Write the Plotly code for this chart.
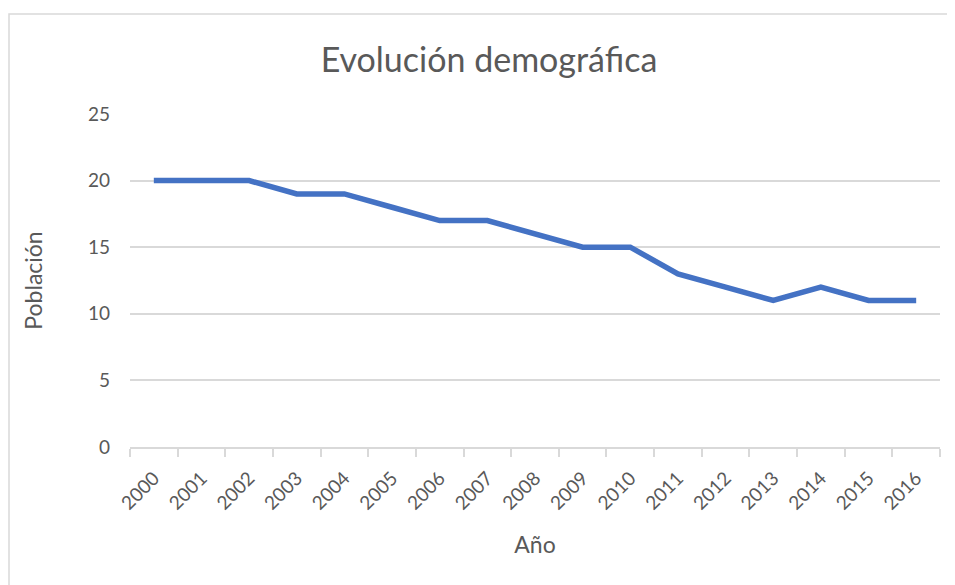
import plotly.graph_objects as go

years = [str(y) for y in range(2000, 2017)]
poblacion = [20, 20, 20, 19, 19, 18, 17, 17, 16, 15, 15, 13, 12, 11, 12, 11, 11]
y_ticks = [0, 5, 10, 15, 20, 25]

FONT = "Lato, Open Sans, sans-serif"
GRAY = "#595959"
LINE = "#D9D9D9"

# page body has an 8px default margin; compensate so plot sits at 130..940 x 114..447
OFF = 8
L, R, T, B = 130 - OFF, 15 + OFF, 114 - OFF, 138 + OFF
PW, PH = 955 - L - R, 585 - T - B

fig = go.Figure()
fig.add_trace(go.Scatter(
    x=years, y=poblacion, mode="lines",
    line=dict(color="#4472C4", width=5.5),
    hoverinfo="x+y", showlegend=False,
))

fig.update_layout(
    width=955, height=585,
    margin=dict(l=L, r=R, t=T, b=B),
    paper_bgcolor="white", plot_bgcolor="white",
    title=dict(text="Evolución demográfica", x=(489 - OFF) / 955, xanchor="center",
               y=1 - (60 - OFF) / 585, yanchor="middle",
               font=dict(family=FONT, size=34, color=GRAY)),
    font=dict(family=FONT, color=GRAY),
    shapes=[dict(type="rect", xref="paper", yref="paper",
                 x0=(OFF + 1 - 130) / PW, x1=1.2, y0=-0.6, y1=(447 - 14) / PH,
                 line=dict(color=LINE, width=1.5), layer="below")],
)

fig.update_xaxes(
    type="category", range=[-0.5, 16.5], tickson="boundaries", ticks="outside", ticklen=8,
    tickcolor=LINE, tickwidth=1.5, showline=True, linecolor=LINE, linewidth=1.5,
    showgrid=False, tickangle=-45, ticklabelstandoff=11,
    tickfont=dict(size=19, color=GRAY, family=FONT),
    title=dict(text="Año", font=dict(size=23, color=GRAY, family=FONT), standoff=24),
)
fig.update_yaxes(
    range=[0, 25], tickvals=y_ticks, showgrid=True, gridcolor=LINE, gridwidth=1.5,
    showline=False, zeroline=False, ticks="", ticklabelstandoff=19,
    tickfont=dict(size=19, color=GRAY, family=FONT),
    title=dict(text="Población", font=dict(size=23, color=GRAY, family=FONT), standoff=38),
)

fig.write_html("out.html")
